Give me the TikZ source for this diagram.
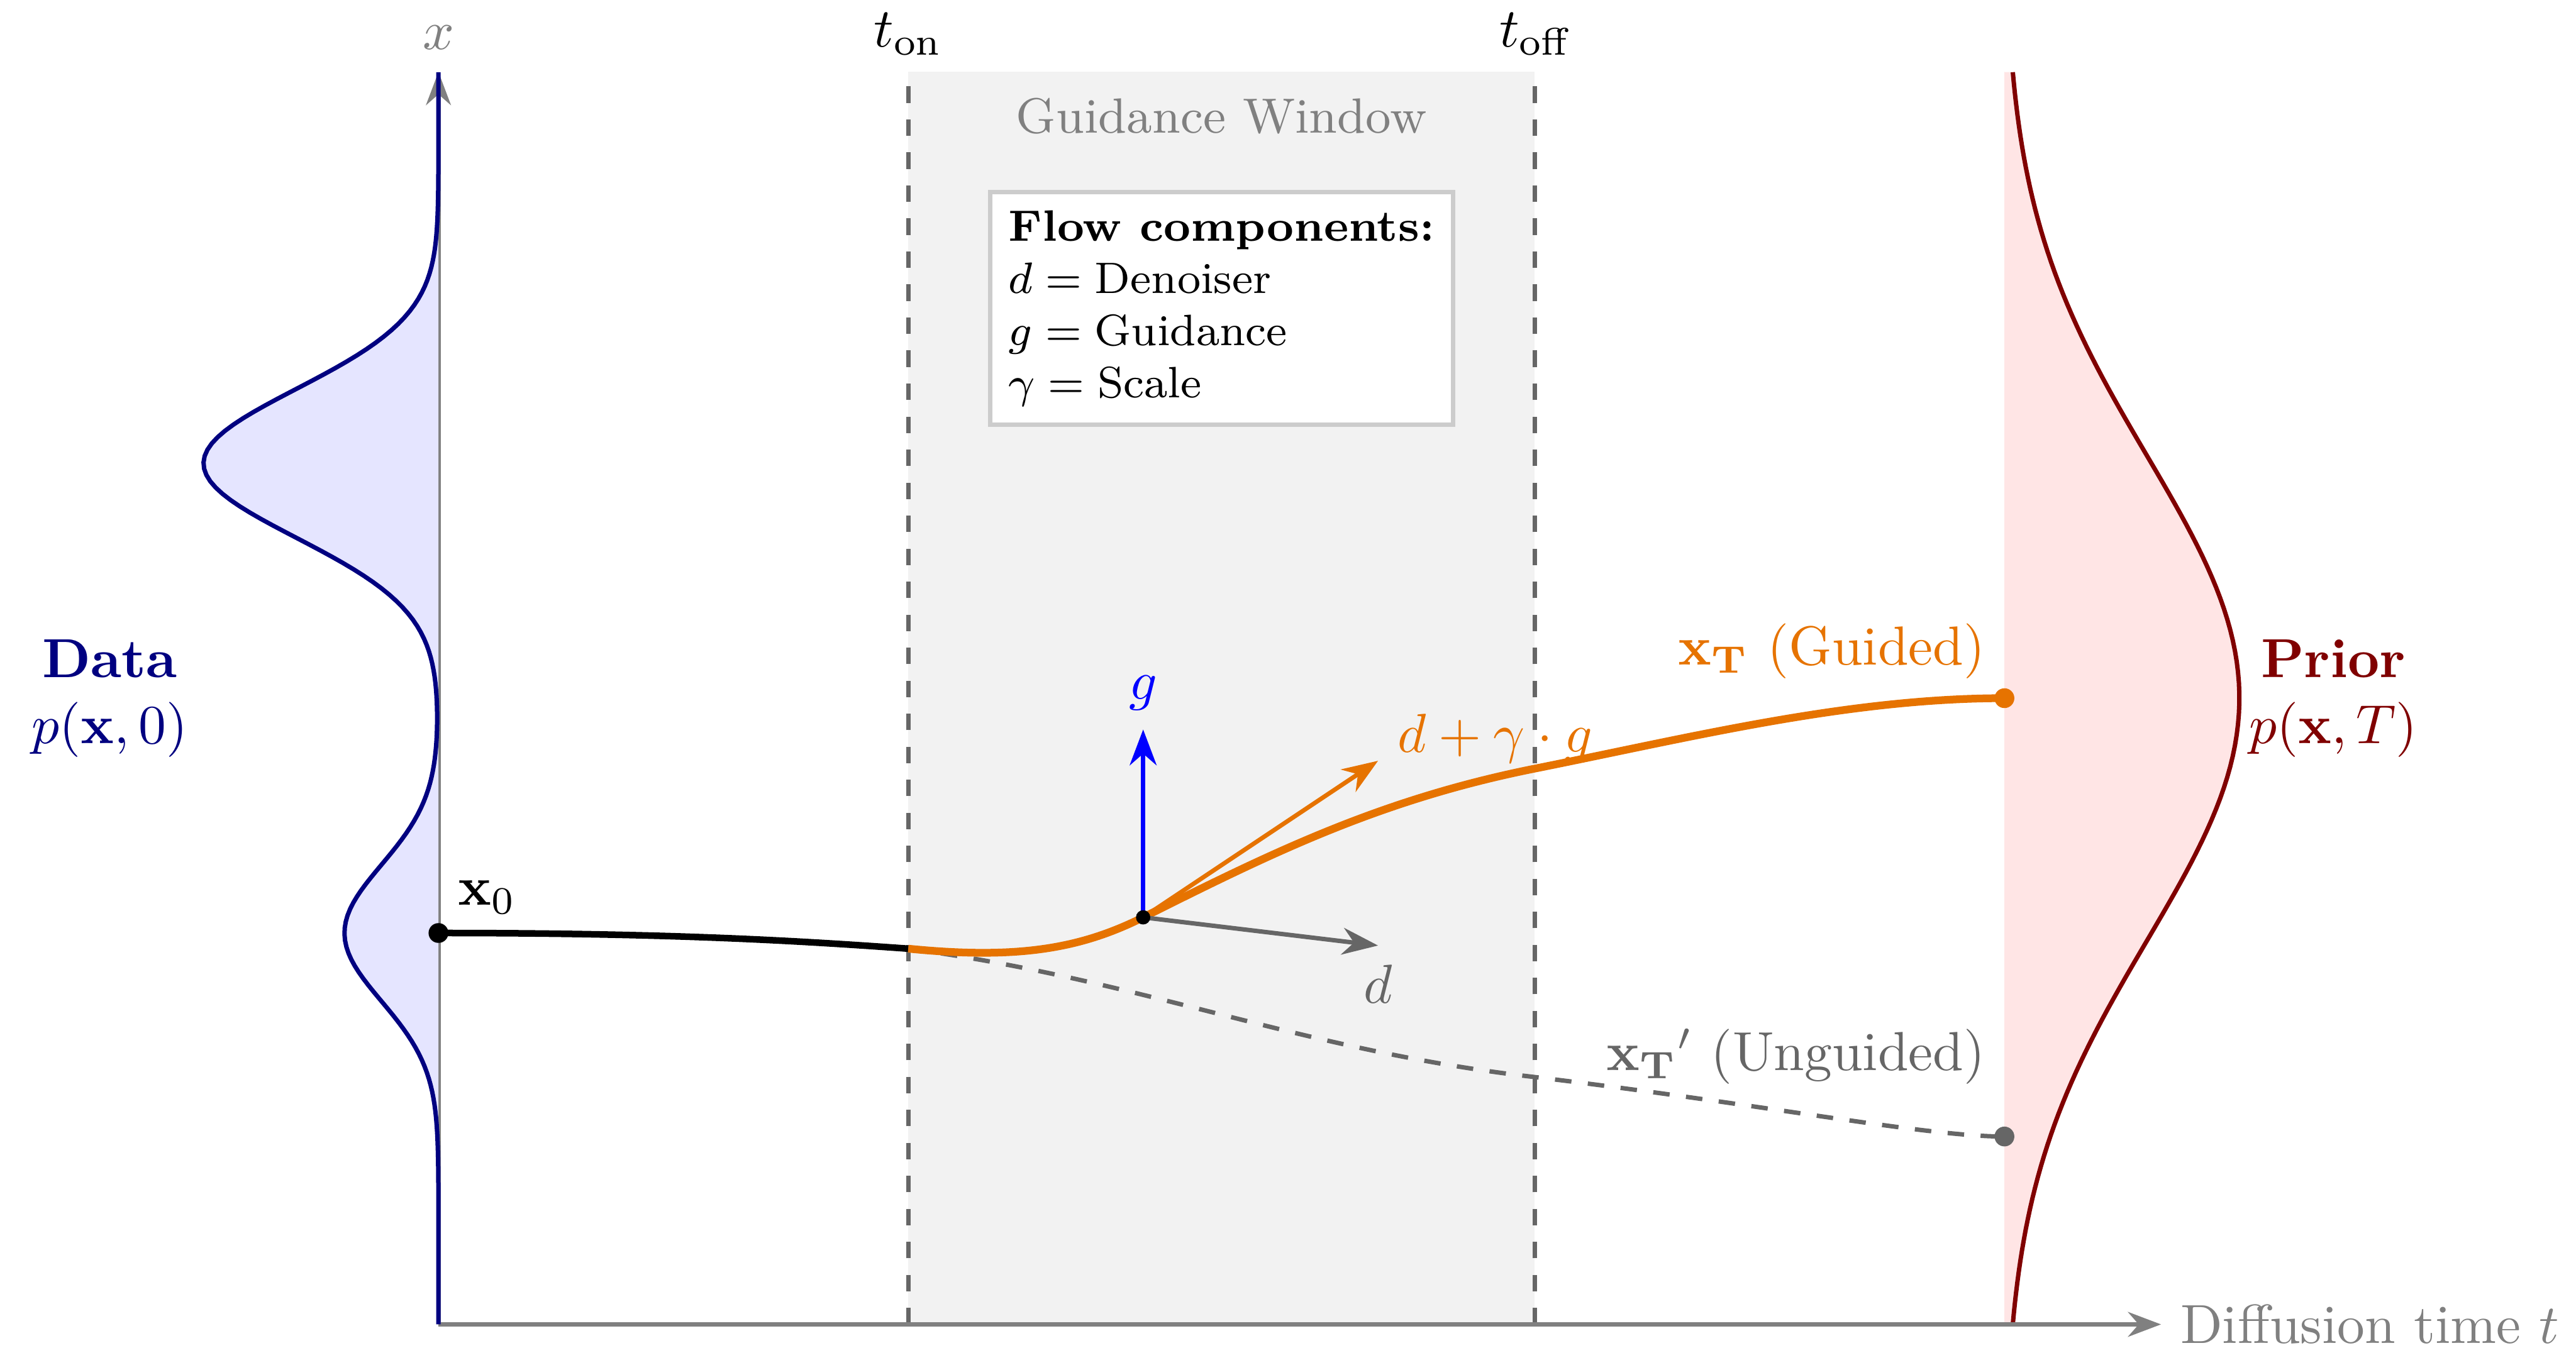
\documentclass[tikz,border=0pt]{standalone}
\usepackage{amsmath,amssymb}
\usepackage{xcolor}
\usepackage{tikz}
\usetikzlibrary{arrows.meta,positioning,calc}
\definecolor{pnavy}{HTML}{000080}
\definecolor{pmaroon}{HTML}{800000}
\definecolor{porange}{HTML}{E67300}
\definecolor{pdgray}{HTML}{666666}
\definecolor{pwin}{HTML}{F2F2F2}

\begin{document}
\begin{tikzpicture}[
    axis/.style={gray,thick,-{Stealth[length=6pt]}},
    vec/.style={thick,-{Stealth[length=6.5pt]}},
    dot/.style={circle,fill,inner sep=0pt,minimum size=#1},
    dot/.default=3.6pt
  ]
  \useasboundingbox (-2.80,-0.18) rectangle (13.65,8.46);

  % guidance window
  \fill[pwin] (3,0) rectangle (7,8);
  \draw[pdgray,thick,dashed] (3,0) -- (3,8);
  \draw[pdgray,thick,dashed] (7,0) -- (7,8);
  \node (ton) at (3,8.24) {$t_{\text{on}}$};
  \node (toff) at (7,8.24) {$t_{\text{off}}$};
  \node[gray,font=\small] (win) at (5,7.72) {Guidance Window};
  \node[draw=gray!40,thick,fill=white,align=left,font=\footnotesize,
        minimum width=2.94cm,minimum height=1.48cm] (legend) at (5,6.49)
    {\textbf{Flow components:}\\
     $d = \text{Denoiser}$\\
     $g = \text{Guidance}$\\
     $\gamma = \text{Scale}$};

  % prior
  \fill[red!10] (10,0) -- plot[domain=0:8,samples=120] ({10+1.5*exp(-(\x-4)^2/4.8)},\x) -- (10,8) -- cycle;
  \draw[pmaroon,thick] plot[domain=0:8,samples=120] ({10+1.5*exp(-(\x-4)^2/4.8)},\x);
  \node[pmaroon,align=center] (prior) at (12.1,4.0) {\textbf{Prior}\\$p(\mathbf{x},T)$};

  % axes
  \coordinate (O) at (0,0);
  \coordinate (tend) at (11,0);
  \coordinate (xend) at (0,8);
  \draw[axis] (O) -- (tend);
  \draw[axis] (O) -- (xend);
  \node[gray,right] (tlab) at (tend) {Diffusion time $t$};
  \node[gray] (xlab) at (0,8.22) {$x$};

  % data
  \draw[pnavy,thick,fill=blue!10] plot[domain=0:8,samples=200]
    ({-1.5*exp(-(\x-5.5)^2/0.45)-0.6*exp(-(\x-2.5)^2/0.38)},\x);
  \node[pnavy,align=center] (data) at (-2.1,4.0) {\textbf{Data}\\$p(\mathbf{x},0)$};

  % trajectories
  \coordinate (x0) at (0,2.5);
  \coordinate (onset) at (3,2.4);
  \coordinate (mid) at (4.5,2.6);
  \coordinate (xT) at (10,4);
  \coordinate (xTu) at (10,1.2);

  \draw[very thick] (x0) .. controls (1.5,2.5) and (2.3,2.45) .. (onset);
  \draw[pdgray,thick,dashed] (onset) .. controls (4.5,2.2) and (5.5,1.75) .. (7,1.58)
    .. controls (8.5,1.4) and (9.5,1.2) .. (xTu);
  \draw[porange,line width=1.4pt] (onset) .. controls (3.7,2.33) and (4.1,2.4) .. (mid)
    .. controls (5.3,3.0) and (6.0,3.35) .. (7,3.55)
    .. controls (8,3.75) and (9,4.0) .. (xT);

  % flow vectors
  \coordinate (dtip) at (6,2.42);
  \coordinate (gtip) at (4.5,3.8);
  \coordinate (stip) at (6,3.6);
  \draw[vec,pdgray] (mid) -- (dtip);
  \draw[vec,blue] (mid) -- (gtip);
  \draw[vec,porange] (mid) -- (stip);
  \node[pdgray,below] (dlab) at (dtip) {$d$};
  \node[blue,above] (glab) at (gtip) {$g$};
  \node[porange,right,yshift=4pt] (slab) at (stip) {$d+\gamma\cdot g$};

  % end points
  \node[dot,black] (x0dot) at (x0) {};
  \node[dot=2.6pt,black] (middot) at (mid) {};
  \node[dot,porange] (xTdot) at (xT) {};
  \node[dot,pdgray] (xTudot) at (xTu) {};
  \node[above right] (x0lab) at (x0) {$\mathbf{x}_0$};
  \node[porange,above left] (xTlab) at (xT) {$\mathbf{x_T}$ (Guided)};
  \node[pdgray,above left,yshift=6pt] (xTulab) at (xTu) {$\mathbf{x_T}'$ (Unguided)};
\end{tikzpicture}
\end{document}
